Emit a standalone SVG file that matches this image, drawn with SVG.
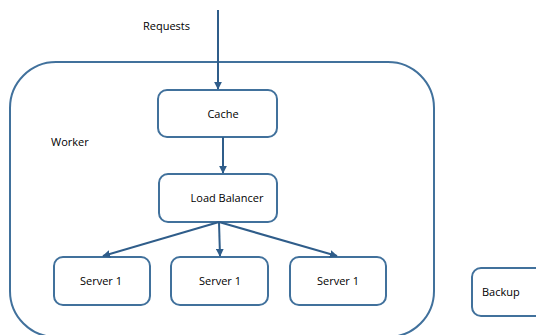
<svg xmlns="http://www.w3.org/2000/svg" width="536" height="335" viewBox="0 0 536 335">
<style>
.box{fill:#fff;stroke:#41719c;stroke-width:2}
.t{font-family:"Open Sans","Liberation Sans",sans-serif;font-size:11px;fill:#000}
.c{stroke:#2f5d8a;stroke-width:2;fill:none;marker-end:url(#ah)}
</style>
<defs>
<marker id="ah" viewBox="0 0 10 10" refX="9" refY="5" markerWidth="4" markerHeight="4" orient="auto">
<path d="M0,0L10,5L0,10z" fill="#2f5d8a"/>
</marker>
</defs>
<g id="worker">
<rect class="box" x="10" y="62" width="424" height="275" rx="46" ry="46"/>
<text class="t" x="51" y="146">Worker</text>
</g>
<text class="t" x="143" y="30">Requests</text>
<g id="cache">
<rect class="box" x="158" y="90" width="119" height="47" rx="9"/>
<text class="t" x="223" y="118" text-anchor="middle">Cache</text>
</g>
<g id="lb">
<rect class="box" x="159" y="174" width="118" height="48" rx="9"/>
<text class="t" x="227" y="202" text-anchor="middle">Load Balancer</text>
</g>
<g id="s1">
<rect class="box" x="54" y="257" width="96" height="48" rx="9"/>
<text class="t" x="101" y="285" text-anchor="middle">Server 1</text>
</g>
<g id="s2">
<rect class="box" x="171" y="257" width="97" height="48" rx="9"/>
<text class="t" x="220" y="285" text-anchor="middle">Server 1</text>
</g>
<g id="s3">
<rect class="box" x="290" y="257" width="96" height="48" rx="9"/>
<text class="t" x="338" y="285" text-anchor="middle">Server 1</text>
</g>
<g id="backup">
<rect class="box" x="472" y="268" width="72" height="48" rx="9"/>
<text class="t" x="482" y="296">Backup</text>
</g>
<g id="connectors">
<line class="c" x1="218" y1="10" x2="218" y2="89"/>
<line class="c" x1="223" y1="137" x2="223" y2="173"/>
<line class="c" x1="219" y1="222" x2="103" y2="256"/>
<line class="c" x1="219" y1="222" x2="220" y2="256"/>
<line class="c" x1="219" y1="222" x2="337" y2="256"/>
</g>
</svg>
